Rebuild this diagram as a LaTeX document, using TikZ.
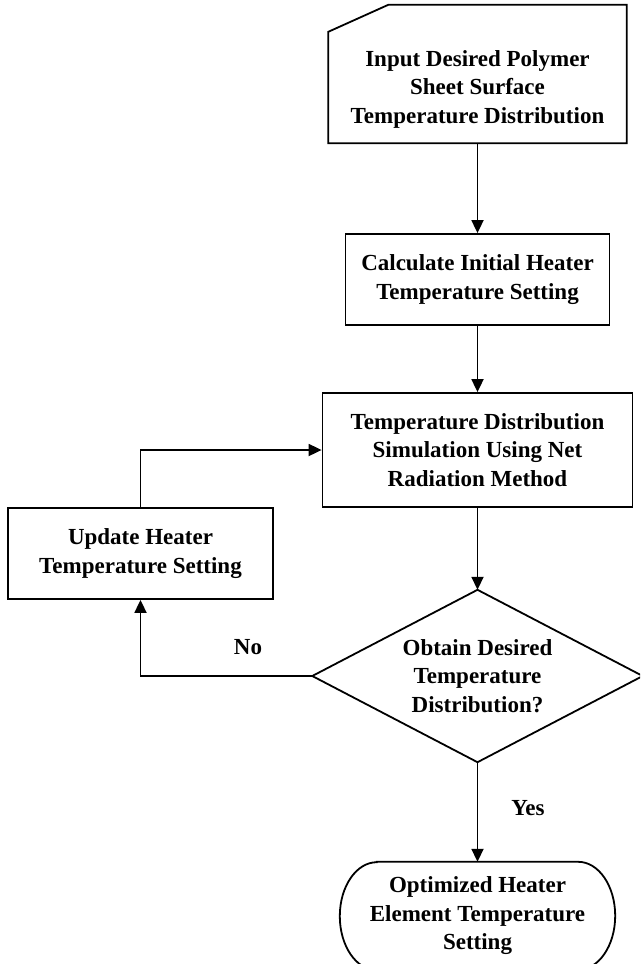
\documentclass[tikz,border=0pt]{standalone}
\usepackage{fontspec}
\setmainfont{Liberation Serif}
\usetikzlibrary{arrows.meta}
\begin{document}
\begin{tikzpicture}[x=1pt,y=-1pt,
  every node/.style={font=\fontsize{23}{28.5}\selectfont\bfseries, align=center, inner sep=0pt},
  box/.style={draw, line width=1.8pt},
  outline/.style={line width=1.8pt, line join=miter},
  conn/.style={line width=1.8pt, -{Triangle[length=13pt,width=12pt]}}]
\useasboundingbox (0,0) rectangle (640,964);
\clip (0,0) rectangle (640,964);

% input card
\node[minimum width=298pt, minimum height=138pt] (in) at (477.5,74) {};
\draw[outline] ([yshift=-27pt]in.north west) -- ([xshift=60pt]in.north west) -- (in.north east) -- (in.south east) -- (in.south west) -- cycle;
\node (intxt) at (477.5,89) {Input Desired Polymer\\Sheet Surface\\Temperature Distribution};

\node[box, minimum width=264pt, minimum height=91pt] (calc) at (477.5,279.5) {Calculate Initial Heater\\Temperature Setting};
\node[box, minimum width=310pt, minimum height=114pt] (sim) at (477.5,450) {Temperature Distribution\\Simulation Using Net\\Radiation Method};
\node[box, minimum width=265pt, minimum height=91pt] (upd) at (140.5,553.5) {Update Heater\\Temperature Setting};

% decision
\node[minimum width=330pt, minimum height=172pt] (dec) at (477.5,676) {Obtain Desired\\Temperature\\Distribution?};
\draw[outline] (dec.north) -- (dec.east) -- (dec.south) -- (dec.west) -- cycle;

% terminal
\node[minimum width=275pt, minimum height=108pt] (out) at (477.5,916) {Optimized Heater\\Element Temperature\\Setting};
\draw[outline] ([xshift=37pt]out.north west) -- ([xshift=-37pt]out.north east)
  arc[start angle=90, end angle=-90, x radius=37pt, y radius=54pt]
  -- ([xshift=37pt]out.south west)
  arc[start angle=270, end angle=90, x radius=37pt, y radius=54pt] -- cycle;

\node (no) at (248,647) {No};
\node (yes) at (528,808) {Yes};

\draw[conn] (in.south) -- (calc.north);
\draw[conn] (calc.south) -- (sim.north);
\draw[conn] (sim.south) -- (dec.north);
\draw[conn] (dec.south) -- (out.north);
\draw[conn] (dec.west) -| (upd.south);
\draw[conn] (upd.north) |- (sim.west);
\end{tikzpicture}
\end{document}
